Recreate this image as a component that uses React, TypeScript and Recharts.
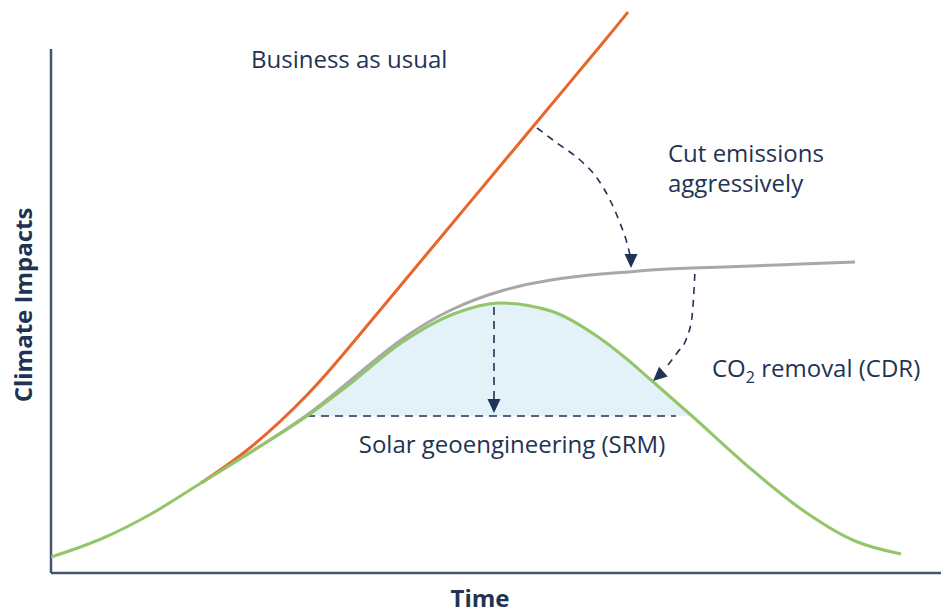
import React from 'react';
import { ComposedChart, Line, Area, Scatter, XAxis, YAxis, ReferenceLine } from 'recharts';

// time steps (arbitrary units) shared by the three pathways
const time = [0, 5, 10, 15, 20, 25.6, 30, 35, 40, 45, 50, 55, 57.7, 60, 64.1, 70, 75, 80.4, 85];
const businessAsUsual = [null, null, null, 9.0, 12.6, 17.8, 22.8, 28.8, 34.8, 40.8, 46.8, 52.8, 56.1, null, null, null, null, null, null];
const cutEmissions = [null, null, null, 9.0, 12.1, 15.8, 19.3, 23.3, 26.3, 28.2, 29.3, 29.9, 30.1, 30.3, 30.5, 30.7, 30.9, 31.1, null];
const co2Removal = [1.6, 3.4, 5.9, 9.0, 12.1, 15.7, 19.0, 23.0, 25.8, 27.0, 26.2, 23.4, 21.3, 19.3, 15.7, 10.4, 6.4, 3.2, 1.9];

// solar geoengineering band
const srmLevel = 15.7;
const srmStart = 25.6;
const srmEnd = 64.1;
const srmDashEnd = 62.5;

// dashed arrows (t, y)
const cutArrow = [
    { t: 48.6, y: 44.5 }, { t: 50.6, y: 43.0 }, { t: 52.9, y: 41.3 }, { t: 54.6, y: 39.5 },
    { t: 55.9, y: 37.3 }, { t: 56.9, y: 35.0 }, { t: 57.6, y: 33.0 }, { t: 57.9, y: 31.8 },
];
const cdrArrow = [
    { t: 61.7, y: 20.8 }, { t: 62.6, y: 22.0 }, { t: 63.6, y: 23.6 }, { t: 64.1, y: 25.6 },
    { t: 64.3, y: 28.3 }, { t: 64.4, y: 30.3 },
];
const srmArrow = [{ t: 44.3, y: 26.6 }, { t: 44.3, y: 17.4 }];
const arrowTips = [
    { t: 58.0, y: 30.5, angle: 90 },
    { t: 60.2, y: 19.2, angle: 138 },
    { t: 44.3, y: 16.0, angle: 90 },
];

const yAxisTop = 52.4;

const notes = [
    { t: 20.0, y: 50.5, text: 'Business as usual', anchor: 'start' },
    { t: 61.7, y: 41.1, text: 'Cut emissions\naggressively', anchor: 'start' },
    { t: 66.1, y: 19.6, text: 'CO₂ removal (CDR)', anchor: 'start' },
    { t: 46.1, y: 12.0, text: 'Solar geoengineering (SRM)', anchor: 'middle' },
];

const chartData = time.map((t, i) => ({
    t,
    bau: businessAsUsual[i],
    cut: cutEmissions[i],
    cdr: co2Removal[i],
    srm: t >= srmStart && t <= srmEnd ? [srmLevel, co2Removal[i]] : null,
}));

const NAVY = '#1f3354';
const AXIS = '#44556f';
const FONT = '"Open Sans", sans-serif';

const ArrowHead = (props: any) => {
    const { cx, cy, payload } = props;
    if (cx == null || cy == null) return null;
    return (
        <polygon
            points="0,0 -14,-6.5 -14,6.5"
            fill={NAVY}
            transform={`translate(${cx},${cy}) rotate(${payload.angle})`}
        />
    );
};

const Note = (props: any) => {
    const { cx, cy, payload } = props;
    if (cx == null || cy == null) return null;
    const common = { fill: NAVY, fontFamily: FONT, fontSize: 24, textAnchor: payload.anchor };
    if (payload.text.includes('₂')) {
        const [before, after] = payload.text.split('₂');
        return (
            <text x={cx} y={cy} {...common}>
                {before}
                <tspan fontSize={16} dy={6}>2</tspan>
                <tspan dy={-6}>{after}</tspan>
            </text>
        );
    }
    const lines = payload.text.split('\n');
    return (
        <text x={cx} y={cy} {...common}>
            {lines.map((l: string, i: number) => (
                <tspan key={i} x={cx} dy={i === 0 ? 0 : 30}>{l}</tspan>
            ))}
        </text>
    );
};

export default function App() {
    return (
        <div style={{ position: 'absolute', left: 0, top: 0, background: '#fff' }}>
            <ComposedChart
                width={941}
                height={615}
                data={chartData}
                margin={{ top: 8, right: 0, bottom: 0, left: 0 }}
            >
                <XAxis
                    dataKey="t"
                    type="number"
                    domain={[0, 89]}
                    allowDataOverflow
                    height={42}
                    tick={false}
                    tickLine={false}
                    axisLine={{ stroke: AXIS, strokeWidth: 2.5 }}
                    label={{
                        content: () => (
                            <text x={480} y={607} textAnchor="middle" fill={NAVY} fontFamily={FONT} fontSize={24} fontWeight={700}>
                                Time
                            </text>
                        ),
                    }}
                />
                <YAxis
                    type="number"
                    domain={[0, 56.5]}
                    allowDataOverflow
                    width={51}
                    tick={false}
                    tickLine={false}
                    axisLine={false}
                    label={{
                        content: () => (
                            <text
                                x={32}
                                y={305}
                                transform="rotate(-90, 32, 305)"
                                textAnchor="middle"
                                fill={NAVY}
                                fontFamily={FONT}
                                fontSize={24}
                                fontWeight={700}
                            >
                                Climate Impacts
                            </text>
                        ),
                    }}
                />
                <ReferenceLine
                    segment={[{ x: 0, y: 0 }, { x: 0, y: yAxisTop }]}
                    stroke={AXIS}
                    strokeWidth={2.5}
                />
                <Area
                    dataKey="srm"
                    type="monotone"
                    stroke="none"
                    fill="#e3f1f8"
                    fillOpacity={1}
                    activeDot={false}
                    isAnimationActive={false}
                />
                <ReferenceLine
                    segment={[{ x: srmStart, y: srmLevel }, { x: srmDashEnd, y: srmLevel }]}
                    stroke={NAVY}
                    strokeWidth={1.6}
                    strokeDasharray="8 6"
                />
                <Line dataKey="cut" type="natural" stroke="#a8a8a8" strokeWidth={3} dot={false} activeDot={false} isAnimationActive={false} />
                <Line dataKey="bau" type="natural" stroke="#e8652b" strokeWidth={3} dot={false} activeDot={false} isAnimationActive={false} />
                <Line dataKey="cdr" type="monotone" stroke="#93c66b" strokeWidth={3} dot={false} activeDot={false} isAnimationActive={false} />
                <Line data={cutArrow} dataKey="y" type="monotone" stroke={NAVY} strokeWidth={1.6} strokeDasharray="7 6" dot={false} activeDot={false} isAnimationActive={false} />
                <Line data={cdrArrow} dataKey="y" type="monotone" stroke={NAVY} strokeWidth={1.6} strokeDasharray="7 6" dot={false} activeDot={false} isAnimationActive={false} />
                <Line data={srmArrow} dataKey="y" type="linear" stroke={NAVY} strokeWidth={1.6} strokeDasharray="8 6" dot={false} activeDot={false} isAnimationActive={false} />
                <Scatter data={arrowTips} dataKey="y" shape={ArrowHead} isAnimationActive={false} />
                <Scatter data={notes} dataKey="y" shape={Note} isAnimationActive={false} />
            </ComposedChart>
        </div>
    );
}
